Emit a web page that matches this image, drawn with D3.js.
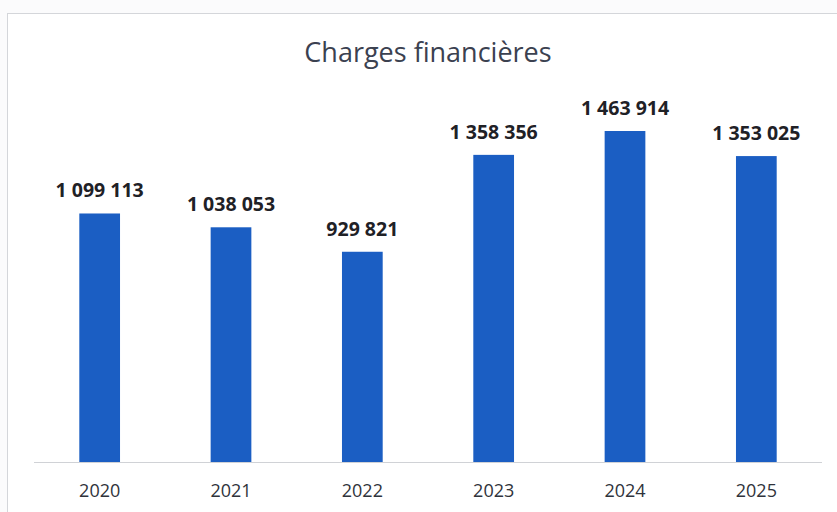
<!DOCTYPE html>
<html><head><meta charset="utf-8">
<script src="https://cdn.jsdelivr.net/npm/d3@7"></script>
<style>body{margin:0;background:#fbfbfc;}svg{display:block;}</style>
</head><body>
<svg id="c" width="837" height="512"></svg>
<script>
const categories = ["2020","2021","2022","2023","2024","2025"];
const values = [1099113, 1038053, 929821, 1358356, 1463914, 1353025];
const valueLabels = ["1 099 113","1 038 053","929 821","1 358 356","1 463 914","1 353 025"];
const title = "Charges financières";

const svg = d3.select("#c");
svg.append("rect").attr("x",7.5).attr("y",13.5).attr("width",850).attr("height",520)
  .attr("fill","#ffffff").attr("stroke","#d4d6da").attr("stroke-width",1);

const x = d3.scaleBand().domain(categories).range([34,822]).paddingInner(0.69).paddingOuter(0.345);
const y = d3.scaleLinear().domain([0,1600000]).range([462, 462-1600000*331/1463914]);

svg.append("text").attr("x",428).attr("y",62).attr("text-anchor","middle")
  .attr("font-family","Open Sans").attr("font-size",27).attr("fill","#3b4150").text(title);

svg.selectAll("rect.bar").data(values).join("rect").attr("class","bar")
  .attr("x",(d,i)=>x(categories[i])).attr("width",x.bandwidth())
  .attr("y",d=>y(d)).attr("height",d=>y(0)-y(d)).attr("fill","#1b5ec3");

svg.selectAll("text.val").data(values).join("text").attr("class","val")
  .attr("x",(d,i)=>x(categories[i])+x.bandwidth()/2).attr("y",d=>y(d)-16)
  .attr("text-anchor","middle").attr("font-family","Open Sans").attr("font-weight","bold")
  .attr("font-size",19.5).attr("fill","#1f2126").text((d,i)=>valueLabels[i]);

const axis = d3.axisBottom(x).tickSize(0).tickPadding(22);
const g = svg.append("g").attr("transform","translate(0,"+y(0)+")").call(axis);
g.select(".domain").attr("stroke","#d0d2d6").attr("d","M34,0.5H822");
g.selectAll("text").attr("font-family","Open Sans").attr("font-size",18).attr("fill","#2f333b");
</script>
</body></html>
